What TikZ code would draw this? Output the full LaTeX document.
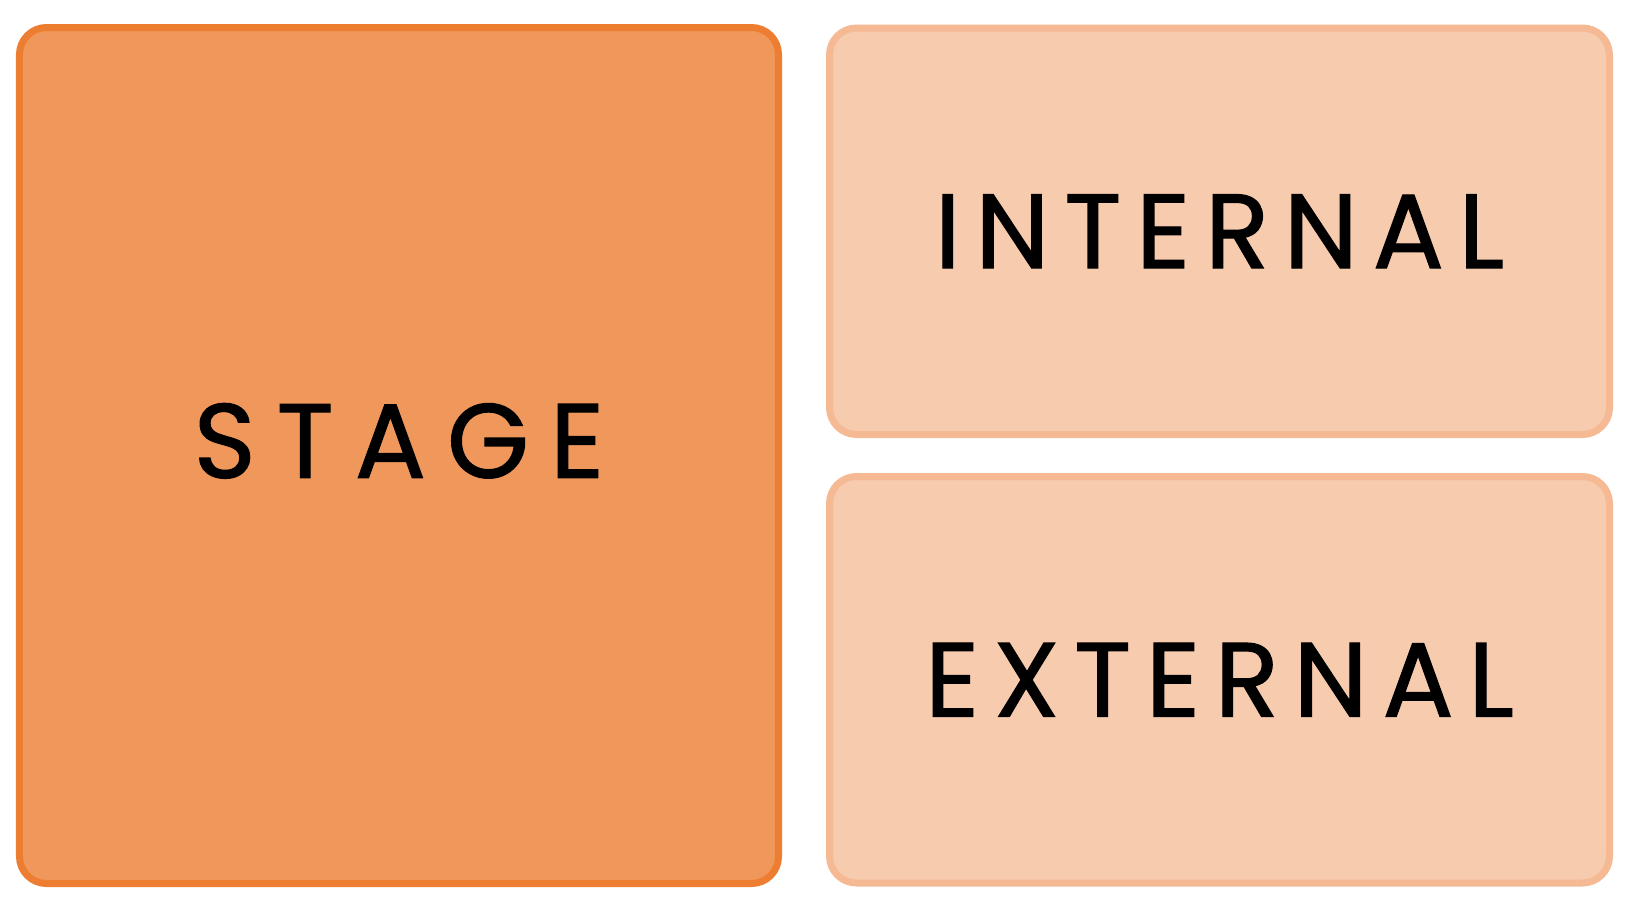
\documentclass[tikz,border=0pt]{standalone}
\usepackage{fontspec}
\setmainfont{Poppins}
\usepackage{tikz}
\usetikzlibrary{positioning}
\definecolor{stageFill}{HTML}{F0975B}
\definecolor{stageLine}{HTML}{ED7D31}
\definecolor{areaFill}{HTML}{F7CBAE}
\definecolor{areaLine}{HTML}{F5B994}
\tikzset{
    panel/.style={rectangle, rounded corners=0.54cm, line width=0.14cm, align=center, inner sep=0pt,
        font=\fontsize{60}{66}\selectfont\addfontfeature{LetterSpace=14, FakeBold=1.2}},
    stagebox/.style={panel, draw=stageLine, fill=stageFill, minimum width=15.18cm, minimum height=17.12cm,
        font=\fontsize{60}{66}\selectfont\addfontfeature{LetterSpace=20, FakeBold=1.2}},
    areabox/.style={panel, draw=areaLine, fill=areaFill, minimum width=15.6cm, minimum height=8.13cm}
}
\begin{document}
\begin{tikzpicture}
        \useasboundingbox (0,0) rectangle (32.72,-18.12);
        % Stage
        \node[stagebox] (Stage) at (7.98,-9.11) {\raisebox{0.6cm}{STAGE}};
        % Areas
        \node[areabox, right=0.88cm of Stage.north east, anchor=north west, yshift=-0.01cm] (Internal) {INTERNAL};
        \node[areabox, below=0.7cm of Internal] (External) {EXTERNAL};
\end{tikzpicture}
\end{document}
